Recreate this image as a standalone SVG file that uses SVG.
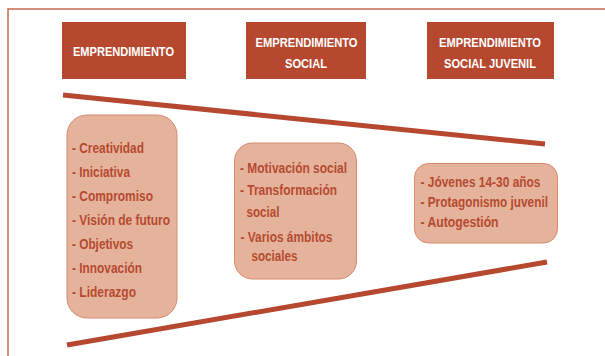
<svg xmlns="http://www.w3.org/2000/svg" width="605" height="356" viewBox="0 0 605 356">
<style>
.hdr{fill:#b5482f}
.ht{fill:#ffffff;font-family:"Liberation Sans",Arial,sans-serif;font-weight:bold;font-size:13.5px}
.card{fill:#e5b39b;stroke:#d88a6e;stroke-width:1}
.ct{fill:#b64a31;font-family:"Liberation Sans",Arial,sans-serif;font-weight:bold;font-size:14.5px}
.frame{fill:none;stroke:#c9674f;stroke-width:1.5}
.bar{stroke:#b5482f;stroke-width:5;fill:none}
</style>
<rect width="605" height="356" fill="#ffffff"/>
<path class="frame" d="M8,356 L8,9 L605,9"/>
<g id="emprendimiento">
<rect class="hdr" x="62" y="22" width="124" height="57"/>
<text class="ht" x="73" y="56" textLength="101" lengthAdjust="spacingAndGlyphs">EMPRENDIMIENTO</text>
</g>
<g id="emprendimiento-social">
<rect class="hdr" x="246" y="22" width="120" height="57"/>
<text class="ht" x="255.5" y="47" textLength="102" lengthAdjust="spacingAndGlyphs">EMPRENDIMIENTO</text>
<text class="ht" x="285" y="67.5" textLength="42" lengthAdjust="spacingAndGlyphs">SOCIAL</text>
</g>
<g id="emprendimiento-social-juvenil">
<rect class="hdr" x="427" y="22" width="127" height="57"/>
<text class="ht" x="439" y="47" textLength="102" lengthAdjust="spacingAndGlyphs">EMPRENDIMIENTO</text>
<text class="ht" x="444" y="67.5" textLength="92" lengthAdjust="spacingAndGlyphs">SOCIAL JUVENIL</text>
</g>
<g id="connectors">
<line class="bar" x1="63" y1="95" x2="545" y2="144"/>
<line class="bar" x1="67" y1="345" x2="547" y2="262"/>
</g>
<g id="rasgos-emprendimiento">
<rect class="card" x="67" y="115" width="110" height="203" rx="20" ry="20"/>
<text class="ct" x="72" y="153" textLength="72" lengthAdjust="spacingAndGlyphs">- Creatividad</text>
<text class="ct" x="72" y="177" textLength="58" lengthAdjust="spacingAndGlyphs">- Iniciativa</text>
<text class="ct" x="72" y="201" textLength="81" lengthAdjust="spacingAndGlyphs">- Compromiso</text>
<text class="ct" x="72" y="225" textLength="98" lengthAdjust="spacingAndGlyphs">- Visión de futuro</text>
<text class="ct" x="72" y="249" textLength="61" lengthAdjust="spacingAndGlyphs">- Objetivos</text>
<text class="ct" x="72" y="273" textLength="70" lengthAdjust="spacingAndGlyphs">- Innovación</text>
<text class="ct" x="72" y="297" textLength="64" lengthAdjust="spacingAndGlyphs">- Liderazgo</text>
</g>
<g id="rasgos-social">
<rect class="card" x="234.5" y="143" width="122" height="136" rx="18" ry="18"/>
<text class="ct" x="240" y="173" textLength="107" lengthAdjust="spacingAndGlyphs">- Motivación social</text>
<text class="ct" x="240" y="195" textLength="97" lengthAdjust="spacingAndGlyphs">- Transformación</text>
<text class="ct" x="246.5" y="217" textLength="33" lengthAdjust="spacingAndGlyphs">social</text>
<text class="ct" x="240.5" y="241.5" textLength="92" lengthAdjust="spacingAndGlyphs">- Varios ámbitos</text>
<text class="ct" x="251.5" y="260.5" textLength="46" lengthAdjust="spacingAndGlyphs">sociales</text>
</g>
<g id="rasgos-juvenil">
<rect class="card" x="414.5" y="163.5" width="143" height="79.5" rx="14" ry="14"/>
<text class="ct" x="420.5" y="186.5" textLength="120" lengthAdjust="spacingAndGlyphs">- Jóvenes 14-30 años</text>
<text class="ct" x="420.5" y="206.5" textLength="127.5" lengthAdjust="spacingAndGlyphs">- Protagonismo juvenil</text>
<text class="ct" x="420.5" y="226.5" textLength="78" lengthAdjust="spacingAndGlyphs">- Autogestión</text>
</g>
</svg>
